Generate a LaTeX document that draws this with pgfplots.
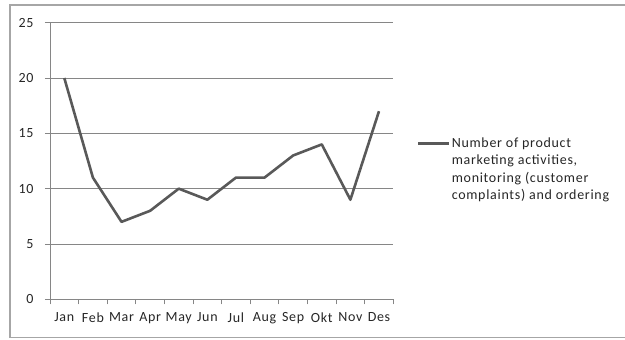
\documentclass[border=0pt]{standalone}
\usepackage{fontspec}
\setmainfont{Carlito}[LetterSpace=5]
\usepackage{pgfplots}
\pgfplotsset{compat=1.18}
\definecolor{gridgray}{HTML}{868686}
\definecolor{framegray}{HTML}{A6A6A6}
\definecolor{linegray}{HTML}{595959}
\definecolor{txt}{HTML}{262626}
\begin{document}
\begin{tikzpicture}[x=1pt,y=1pt]
\useasboundingbox (0,0) rectangle (625,340);
% chart frame (right edge runs off the page)
\draw[framegray, line width=1.2pt] (626,335) -- (10,335) -- (10,2.5) -- (626,2.5);
\begin{axis}[
  at={(50pt,40.7pt)}, anchor=south west,
  scale only axis, width=343.3pt, height=276.6pt,
  xmin=-0.5, xmax=11.5, ymin=0, ymax=25,
  axis x line=bottom, axis y line=left,
  axis line style={-, gridgray, line width=0.8pt},
  xtick={0,...,11},
  xticklabels={Jan,Feb,Mar,Apr,May,Jun,Jul,Aug,Sep,Okt,Nov,Des},
  major x tick style={draw=none},
  minor xtick={-0.5,0.5,...,11.5},
  ytick={0,5,...,25},
  ymajorgrids, grid style={gridgray, line width=0.8pt},
  tick align=outside, major tick length=5pt, minor tick length=5pt,
  tick style={gridgray, line width=0.8pt},
  ticklabel style={font=\fontsize{14}{16}\selectfont, text=txt},
  /pgf/number format/assume math mode=true,
  yticklabel style={xshift=-8pt},
  xticklabel style={yshift=-5pt},
  legend style={at={(1.069,0.593)}, anchor=north west, draw=none, fill=none,
    font=\fontsize{14}{17.5}\selectfont, text=txt, inner sep=0pt,
    cells={align=left}, nodes={inner xsep=1pt}},
  legend image code/.code={\draw[#1] (0pt,26pt) -- (31pt,26pt);},
]
\addplot[linegray, line width=2.6pt, line join=round] coordinates {
  (0,20) (1,11) (2,7) (3,8) (4,10) (5,9)
  (6,11) (7,11) (8,13) (9,14) (10,9) (11,17)
};
\addlegendentry{Number of product\\marketing activities,\\monitoring (customer\\complaints) and ordering}
\end{axis}
\end{tikzpicture}
\end{document}
